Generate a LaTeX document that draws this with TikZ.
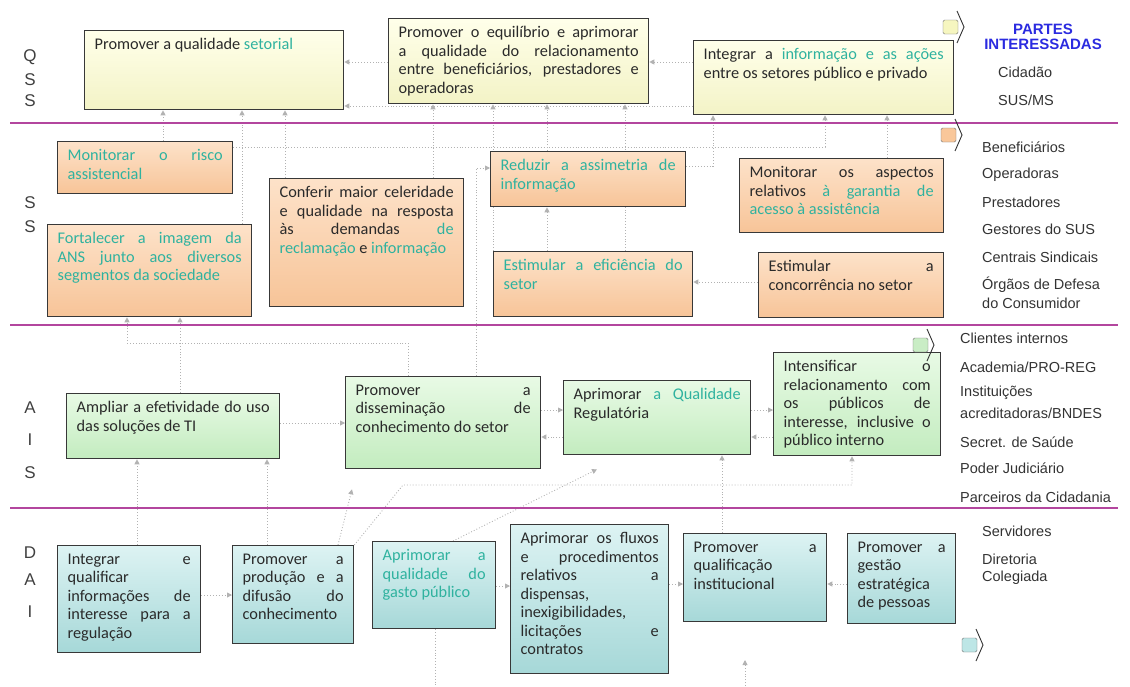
\documentclass[tikz,border=0pt]{standalone}
\usepackage{fontspec}
\setmainfont{Carlito}
\newfontfamily\arialf{Liberation Sans}
\usepackage{xcolor}
\usetikzlibrary{calc,arrows.meta}
\definecolor{txtc}{HTML}{2A2A2A}
\definecolor{tealc}{HTML}{2FB29F}
\definecolor{sepc}{HTML}{B3469E}
\definecolor{linkc}{HTML}{B2B2B2}
\definecolor{partc}{HTML}{2B2BE0}
\definecolor{qtop}{HTML}{FFFFEA}
\definecolor{qbot}{HTML}{F3F3C6}
\definecolor{stopc}{HTML}{FDE2C9}
\definecolor{sbot}{HTML}{F7C498}
\definecolor{atop}{HTML}{E8FAE5}
\definecolor{abot}{HTML}{C3ECBF}
\definecolor{dtop}{HTML}{DDF3F3}
\definecolor{dbot}{HTML}{A6D8D8}
\definecolor{qarr}{HTML}{F6F6C0}
\definecolor{sarr}{HTML}{F9C79A}
\definecolor{aarr}{HTML}{C9EDC5}
\definecolor{darr}{HTML}{BDE6E6}
\pgfdeclarelayer{bg}
\pgfsetlayers{bg,main}
\tikzset{
  box/.style={draw=black!78,line width=1.3pt,anchor=north west,inner xsep=10pt,inner ysep=8pt,font=\fontsize{16.3}{18.5}\selectfont,text=txtc},
  qbox/.style={box,top color=qtop,bottom color=qbot},
  sbox/.style={box,top color=stopc,bottom color=sbot},
  abox/.style={box,top color=atop,bottom color=abot},
  dbox/.style={box,top color=dtop,bottom color=dbot},
  link/.style={dotted,line width=0.9pt,linkc,-{Triangle[length=5pt,width=5pt]}},
  sepline/.style={line width=1.8pt,sepc},
  lane/.style={font=\arialf\fontsize{17}{17}\selectfont,text=black!75},
  plab/.style={anchor=west,inner sep=0pt,font=\arialf\fontsize{14.5}{16}\selectfont,text=black!80}
}
\newcommand{\btx}[3]{\parbox[c][#2pt][t]{#1pt}{\hyphenpenalty=10000 \tolerance=10000 \hbadness=10000 #3}}
\newcommand{\tealtx}[1]{\textcolor{tealc}{#1}}

\begin{document}
\begin{tikzpicture}[x=1pt,y=-1pt]
\useasboundingbox (0,0) rectangle (1130,686);
% QSS
\node[qbox] (qss1) at (84,30) {\btx{239}{63}{Promover a qualidade \tealtx{setorial}}};
\node[qbox] (qss2) at (388,18) {\btx{240}{69}{Promover o equilíbrio e aprimorar \linebreak a qualidade do relacionamento \linebreak entre beneficiários, prestadores e \linebreak operadoras}};
\node[qbox] (qss3) at (693,40) {\btx{240}{58}{Integrar a \tealtx{informação e as ações} \linebreak entre os setores público e privado}};
% SS
\node[sbox] (ss1) at (57,141) {\btx{155}{36}{\tealtx{Monitorar o risco \linebreak assistencial}}};
\node[sbox] (ss2) at (47,224) {\btx{184}{76}{\tealtx{Fortalecer a imagem da \linebreak ANS junto aos diversos \linebreak segmentos da sociedade}}};
\node[sbox] (ss3) at (269,178) {\btx{174}{112}{Conferir maior celeridade \linebreak e qualidade na resposta \linebreak às demandas \tealtx{de} \linebreak \tealtx{reclamação} e \tealtx{informação}}};
\node[sbox] (ss4) at (490,151) {\btx{175}{39}{\tealtx{Reduzir a assimetria de \linebreak informação}}};
\node[sbox] (ss5) at (739,158) {\btx{184}{58}{Monitorar os aspectos \linebreak relativos \tealtx{à garantia de} \linebreak \tealtx{acesso à assistência}}};
\node[sbox] (ss6) at (493,251) {\btx{179}{49}{\tealtx{Estimular a eficiência do \linebreak setor}}};
\node[sbox] (ss7) at (758,252) {\btx{165}{49}{Estimular a \linebreak concorrência no setor}};
% AIS
\node[abox] (ais1) at (66,393) {\btx{193}{49}{Ampliar a efetividade do uso \linebreak das soluções de TI}};
\node[abox] (ais2) at (345,376) {\btx{175}{76}{Promover a \linebreak disseminação de \linebreak conhecimento do setor}};
\node[abox] (ais3) at (563,380) {\btx{167}{58}{Aprimorar \tealtx{a Qualidade} \linebreak Regulatória}};
\node[abox] (ais4) at (773,352) {\btx{147}{87}{Intensificar o \linebreak relacionamento com \linebreak os públicos de \linebreak interesse, inclusive o \linebreak público interno}};
% DAI
\node[dbox] (dai1) at (57,545) {\btx{123}{91}{Integrar e \linebreak qualificar \linebreak informações de \linebreak interesse para a \linebreak regulação}};
\node[dbox] (dai2) at (232,545) {\btx{101}{82}{Promover a \linebreak produção e a \linebreak difusão do \linebreak conhecimento}};
\node[dbox] (dai3) at (372,541) {\btx{103}{71}{\tealtx{Aprimorar a \linebreak qualidade do \linebreak gasto público}}};
\node[dbox] (dai4) at (510,524) {\btx{138}{133}{Aprimorar os fluxos \linebreak e procedimentos \linebreak relativos a \linebreak dispensas, \linebreak inexigibilidades, \linebreak licitações e \linebreak contratos}};
\node[dbox] (dai5) at (683,533) {\btx{123}{72}{Promover a \linebreak qualificação \linebreak institucional}};
\node[dbox] (dai6) at (847,533) {\btx{88}{74}{Promover a \linebreak gestão \linebreak estratégica \linebreak de pessoas}};
\coordinate (t2) at ($(ais2.south west)+(7,20)$);
\coordinate (t3) at ($(ais3.south west)+(34,14)$);
\coordinate (botin) at (745,686);
\coordinate (botout) at (435,686);
% lane letters
\foreach \lt/\ly [count=\i] in {Q/57,S/80,S/101,S/203,S/227,A/408,I/440,S/473,D/553,A/580,I/612}
  \node[lane] (lt\i) at (30,\ly) {\lt};
% stakeholders
\node[font=\arialf\bfseries\fontsize{15}{15.5}\selectfont,text=partc,align=center] (partes) at (1043,37) {PARTES\\INTERESSADAS};
\foreach \lab/\ly [count=\i] in {Cidadão/72,{SUS/MS}/100}
  \node[plab] (lq\i) at (998,\ly) {\lab};
\foreach \lab/\ly [count=\i] in {Beneficiários/147,Operadoras/175,Prestadores/202,Gestores do SUS/229,Centrais Sindicais/257,Órgãos de Defesa/285,do Consumidor/303,Servidores/531,Diretoria/559,Colegiada/578}
  \node[plab] (ls\i) at (982,\ly) {\lab};
\foreach \lab/\ly [count=\i] in {Clientes internos/338,{Academia/PRO-REG}/367,Instituições/393,{acreditadoras/BNDES}/413,Secret. de Saúde/442,Poder Judiciário/468,Parceiros da Cidadania/497}
  \node[plab] (la\i) at (960,\ly) {\lab};
% block arrows
\foreach \ax/\ay/\ac in {943/27/qarr,941/135/sarr,913/345/aarr,962/645/darr}{
  \fill[\ac,draw=black!55,rounded corners=1.5pt] (\ax,\ay-7) rectangle ++(15,14);
  \draw[black!80,line width=0.9pt] (\ax+14,\ay-16) -- (\ax+21,\ay) -- (\ax+14,\ay+16);
}
\begin{pgfonlayer}{bg}
% QSS links
\draw[link] (qss2.west |- 0,62) -- (qss1.east |- 0,62);
\draw[link] (qss3.west |- 0,62) -- (qss2.east |- 0,62);
\draw[link] (qss3.west |- 0,106) -- (qss1.east |- 0,106);
\draw[link] (163,0 |- ss1.north) -- (163,0 |- qss1.south);
\draw[link] (242,0 |- ss2.north) -- (242,0 |- qss1.south);
\draw[link] (285,0 |- ss3.north) -- (285,0 |- qss1.south);
\draw[link] (433,0 |- ss3.north) -- (433,0 |- qss2.south);
\draw[link] (493,0 |- ss6.north) -- (493,0 |- qss2.south);
\draw[link] (547,0 |- ss4.north) -- (547,0 |- qss2.south);
\draw[link] (625,0 |- ss6.north) -- (625,0 |- qss2.south);
\draw[link] (ss4.east |- 0,166) -| (713,0 |- qss3.south);
\draw[link] (ss1.east |- 0,147) -| (825,0 |- qss3.south);
\draw[link] (887,0 |- ss5.north) -- (887,0 |- qss3.south);
% SS links
\draw[link] (547,0 |- ss6.north) -- (547,0 |- ss4.south);
\draw[link] (ss7.west |- 0,282) -- (ss6.east |- 0,282);
\draw[link] (476,0 |- ais2.north) |- (ss4.west |- 0,168);
\draw[link] (408,0 |- ais2.north) |- (127,343) -- (127,0 |- ss2.south);
\draw[link] (180,0 |- ais1.north) -- (180,0 |- ss2.south);
% AIS links
\draw[link] (ais1.east |- 0,423) -- (ais2.west |- 0,423);
\draw[link] (ais2.east |- 0,410) -- (ais3.west |- 0,410);
\draw[link] (ais3.west |- 0,437) -- (ais2.east |- 0,437);
\draw[link] (ais3.east |- 0,410) -- (ais4.west |- 0,410);
\draw[link] (ais4.west |- 0,437) -- (ais3.east |- 0,437);
\draw[link] (dai2.north east) -- (403,485) -| (852,0 |- ais4.south);
\draw[link] (338,0 |- dai2.north) -- (t2);
\draw[link] (453,0 |- dai3.north) -- (t3);
\draw[link] (137,0 |- dai1.north) -- (137,0 |- ais1.south);
\draw[link] (267,0 |- dai2.north) -- (267,0 |- ais1.south);
\draw[link] (722,0 |- dai5.north) -- (722,0 |- ais3.south);
% DAI links
\draw[link] (dai1.east |- 0,595) -- (dai2.west |- 0,595);
\draw[link] (dai3.east |- 0,586) -- (dai4.west |- 0,586);
\draw[link] (dai4.east |- 0,584) -- (dai5.west |- 0,584);
\draw[link] (dai6.west |- 0,584) -- (dai5.east |- 0,584);
\draw[link] (botin) -- ++(0,-26);
\draw[link,-] (435,0 |- dai3.south) -- (botout);
% lane separators
\foreach \sy in {123,325,508}
  \draw[sepline] (10,\sy) -- (1118,\sy);
\end{pgfonlayer}
\end{tikzpicture}
\end{document}
